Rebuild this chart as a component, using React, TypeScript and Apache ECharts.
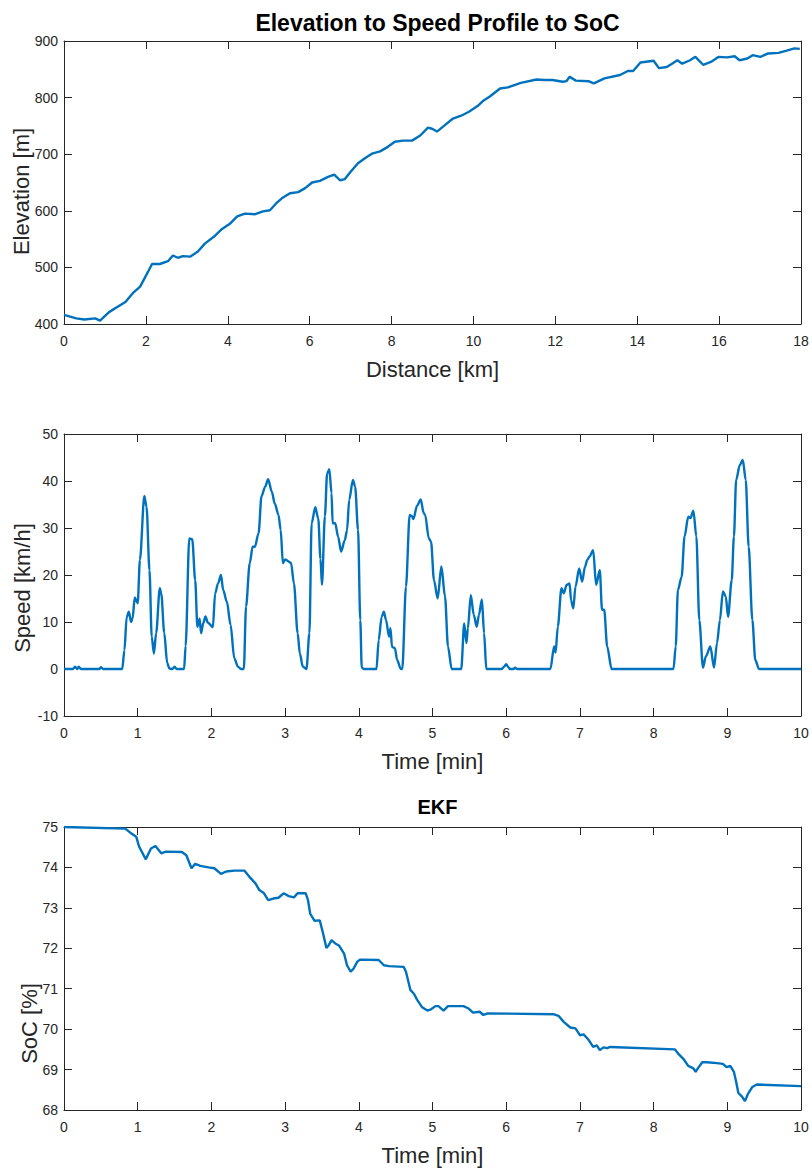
import React, { useEffect, useRef } from "react";
import * as echarts from "echarts";

const FONT = "'Liberation Sans', Arial, Helvetica, sans-serif";
const AXIS_COLOR = "#262626";
const LINE_COLOR = "#0072BD";

const mainTitle = "Elevation to Speed Profile to SoC";
const socTitle = "EKF";

const elevationTicks = { min: 400, max: 900, interval: 100 };
const distanceTicks = { min: 0, max: 18, interval: 2 };
const speedTicks = { min: -10, max: 50, interval: 10 };
const timeTicks = { min: 0, max: 10, interval: 1 };
const socTicks = { min: 68, max: 75, interval: 1 };

const distanceKm = [
  0, 0.15, 0.3, 0.5, 0.76, 0.88, 1.1, 1.3, 1.5, 1.7, 1.86, 2.05, 2.15, 2.34, 2.54, 2.66, 2.78, 2.9,
  3.08, 3.27, 3.44, 3.69, 3.86, 4.05, 4.23, 4.42, 4.67, 4.86, 5.03, 5.18, 5.32, 5.52, 5.72, 5.89,
  6.06, 6.25, 6.45, 6.6, 6.74, 6.86, 6.99, 7.18, 7.35, 7.52, 7.72, 7.91, 8.08, 8.28, 8.5, 8.7, 8.89,
  8.99, 9.11, 9.28, 9.5, 9.7, 9.89, 10.1, 10.25, 10.4, 10.65, 10.84, 11.16, 11.54, 11.73, 11.93,
  12.18, 12.27, 12.35, 12.5, 12.81, 12.94, 13.2, 13.58, 13.77, 13.9, 14.08, 14.4, 14.53, 14.72,
  14.85, 14.98, 15.1, 15.29, 15.42, 15.61, 15.8, 15.99, 16.19, 16.38, 16.5, 16.69, 16.82, 17.01,
  17.2, 17.45, 17.65, 17.84, 17.97,
];
const elevationM = [
  416, 413, 410, 408, 410, 406, 421, 430, 439, 456, 466, 492, 506, 506, 511, 521, 517, 520,
  519, 528, 542, 556, 568, 577, 590, 595, 594, 599, 601, 613, 622, 631, 633, 640,
  650, 653, 660, 664, 654, 656, 668, 684, 693, 701, 705, 713, 722, 724, 724, 733, 747,
  745, 740, 750, 763, 768, 775, 785, 795, 802, 816, 818, 826, 832, 831, 831,
  828, 829, 837, 830, 829, 825, 834, 840, 847, 847, 862, 865, 852, 854,
  860, 866, 860, 866, 872, 858, 863, 872, 871, 873, 866, 869, 875, 872,
  878, 879, 883, 887, 886,
];

const speedTimeMin = [
  0, 0.12, 0.15, 0.18, 0.2, 0.23, 0.48, 0.5, 0.53, 0.79, 0.82, 0.85, 0.88, 0.91, 0.93, 0.96, 1.0,
  1.03, 1.09, 1.12, 1.16, 1.19, 1.22, 1.25, 1.3, 1.32, 1.36, 1.4, 1.43, 1.47, 1.5, 1.53, 1.63, 1.65,
  1.7, 1.74, 1.78, 1.81, 1.84, 1.86, 1.89, 1.92, 1.95, 2.02, 2.05, 2.09, 2.13, 2.16, 2.21, 2.26,
  2.31, 2.36, 2.4, 2.44, 2.47, 2.52, 2.56, 2.59, 2.64, 2.68, 2.73, 2.77, 2.82, 2.86, 2.91, 2.94,
  2.97, 3.0, 3.08, 3.12, 3.17, 3.2, 3.24, 3.29, 3.33, 3.36, 3.41, 3.45, 3.48, 3.5, 3.54, 3.57, 3.6,
  3.63, 3.645, 3.68, 3.72, 3.76, 3.81, 3.84, 3.87, 3.92, 3.95, 3.99, 4.02, 4.04, 4.07, 4.24, 4.27,
  4.31, 4.34, 4.37, 4.41, 4.43, 4.45, 4.49, 4.52, 4.57, 4.59, 4.64, 4.69, 4.72, 4.74, 4.79, 4.84,
  4.88, 4.9, 4.95, 4.98, 5.02, 5.07, 5.12, 5.17, 5.21, 5.26, 5.39, 5.43, 5.46, 5.48, 5.52, 5.56,
  5.6, 5.63, 5.67, 5.7, 5.73, 5.94, 5.97, 6.0, 6.03, 6.05, 6.1, 6.12, 6.15, 6.6, 6.65, 6.67, 6.7,
  6.75, 6.78, 6.82, 6.86, 6.88, 6.91, 6.94, 6.99, 7.03, 7.07, 7.1, 7.13, 7.18, 7.22, 7.27, 7.3,
  7.33, 7.37, 7.43, 8.27, 8.3, 8.33, 8.38, 8.42, 8.47, 8.5, 8.54, 8.58, 8.62, 8.67, 8.71, 8.77,
  8.82, 8.86, 8.9, 8.94, 8.98, 9.01, 9.06, 9.09, 9.12, 9.17, 9.21, 9.25, 9.29, 9.34, 9.38, 9.43, 10,
];
const speedKmh = [
  0, 0, 0.5, 0, 0.5, 0, 0, 0.4, 0, 0, 4, 11, 12.2, 10, 10.7, 15.2, 14,
  23.2, 36.8, 34.5, 21, 6.9, 3.3, 7.6, 17.2, 16, 7.7, 1.3, 0.1, 0, 0.5, 0, 0, 4.9,
  27.8, 27.6, 18.9, 9, 10.7, 7.6, 9.8, 11.2, 9.9, 8.9, 16, 18.2, 20, 16.8, 14.3, 9.4,
  2.3, 0.5, 0, 0, 13.3, 22.5, 26, 26, 28.9, 36.8, 38.8, 40.4, 37.7, 35.2, 32.8, 29.6,
  22.5, 23.3, 22.6, 18.2, 7.6, 3.3, 0.5, 0, 7.6, 31, 34.4, 32, 23.4, 17.9, 32.5, 41.6, 42.5,
  37.4, 31, 31, 28.1, 25, 27.4, 29.5, 36, 40.2, 38.8, 29.6, 10.4, 0.3, 0, 0, 6.2,
  11.1, 12.2, 10.4, 6.9, 8.7, 4.7, 4.4, 1.9, 0, 0, 17.5, 32.8, 32.5, 31.9, 34.7, 36.1,
  33.2, 32.8, 27.8, 27.1, 18.9, 15, 21.8, 15.4, 4.8, 0, 0, 9.7, 5.5, 8.7, 15.7, 11.5,
  9, 11.5, 14.8, 7.6, 0, 0, 0.5, 1, 0.4, 0, 0, 0.3, 0, 0, 4.8, 3.5, 9,
  17.2, 16.1, 17.9, 18.2, 14.6, 12.9, 17.5, 21.4, 18.6, 21.8, 23.2, 23.9, 25.3, 17.9, 21, 12.6,
  12.6, 4.8, 0, 0, 4.8, 16.8, 19.6, 28.2, 32.4, 32.1, 33.7, 28.2, 10.4, 0.3, 2.7, 4.8,
  0.3, 5.5, 10.4, 16.5, 15.4, 11.1, 18.9, 28.2, 40.2, 43.4, 44.5, 40.2, 26, 10.4, 1.9, 0, 0,
];

const socTimeMin = [
  0, 0.83, 0.9, 0.98, 1.02, 1.11, 1.18, 1.24, 1.32, 1.38, 1.6, 1.66, 1.73, 1.78, 1.85, 1.96, 2.04,
  2.13, 2.2, 2.31, 2.45, 2.52, 2.6, 2.65, 2.71, 2.77, 2.84, 2.91, 2.98, 3.05, 3.12, 3.17, 3.28,
  3.31, 3.34, 3.4, 3.47, 3.51, 3.56, 3.59, 3.63, 3.68, 3.73, 3.8, 3.84, 3.89, 3.93, 3.98, 4.02,
  4.27, 4.34, 4.41, 4.61, 4.64, 4.7, 4.75, 4.79, 4.86, 4.93, 4.98, 5.04, 5.08, 5.15, 5.21, 5.42,
  5.49, 5.55, 5.64, 5.69, 5.75, 6.64, 6.71, 6.78, 6.87, 6.94, 7.0, 7.05, 7.12, 7.18, 7.23, 7.27,
  7.32, 7.37, 7.41, 8.29, 8.34, 8.41, 8.47, 8.54, 8.57, 8.6, 8.66, 8.72, 8.86, 8.94, 8.99, 9.04,
  9.09, 9.12, 9.15, 9.2, 9.24, 9.28, 9.34, 9.4, 10,
];
const socPercent = [
  75.0, 74.96, 74.86, 74.76, 74.51, 74.2, 74.47, 74.53, 74.35, 74.39, 74.38, 74.3, 73.98, 74.09, 74.04, 74.0, 73.98,
  73.84, 73.9, 73.92, 73.92, 73.76, 73.6, 73.44, 73.37, 73.19, 73.23, 73.25, 73.36, 73.29, 73.26, 73.36, 73.36,
  73.2, 72.86, 72.68, 72.69, 72.41, 72.01, 72.07, 72.2, 72.12, 72.07, 71.87, 71.58, 71.42, 71.5, 71.67, 71.72,
  71.71, 71.58, 71.56, 71.54, 71.42, 70.97, 70.87, 70.73, 70.54, 70.46, 70.49, 70.57, 70.57, 70.46, 70.57, 70.57,
  70.51, 70.41, 70.43, 70.35, 70.39, 70.37, 70.33, 70.18, 70.04, 70.02, 69.85, 69.87, 69.73, 69.56, 69.6, 69.48,
  69.55, 69.53, 69.56, 69.5, 69.38, 69.25, 69.09, 69.03, 68.94, 69.03, 69.18, 69.18, 69.16, 69.14, 69.06, 69.09,
  68.94, 68.7, 68.42, 68.33, 68.22, 68.4, 68.57, 68.63, 68.59,
];

const zip = (xs: number[], ys: number[]) => xs.map((x, i) => [x, ys[i]]);

const lineStyle = { color: AXIS_COLOR, width: 1 };

function xAxes(gridIndex: number, t: { min: number; max: number; interval: number }, name: string) {
  const base = {
    type: "value",
    gridIndex,
    min: t.min,
    max: t.max,
    interval: t.interval,
    splitLine: { show: false },
    axisLine: { show: true, onZero: false, lineStyle },
    axisTick: { show: true, inside: true, length: 8, lineStyle },
  };
  return [
    {
      ...base,
      position: "bottom",
      axisLabel: {
        show: true,
        margin: 10,
        fontSize: 14,
        color: AXIS_COLOR,
        fontFamily: FONT,
        showMinLabel: true,
        showMaxLabel: true,
      },
      name,
      nameLocation: "middle",
      nameGap: 34,
      nameMoveOverlap: false,
      nameTextStyle: { fontSize: 22, color: AXIS_COLOR, fontFamily: FONT },
    },
    { ...base, position: "top", axisLabel: { show: false } },
  ];
}

function yAxes(
  gridIndex: number,
  t: { min: number; max: number; interval: number },
  name: string,
  nameGap: number,
  shiftDown: number
) {
  const base = {
    type: "value",
    gridIndex,
    min: t.min,
    max: t.max,
    interval: t.interval,
    splitLine: { show: false },
    axisLine: { show: true, onZero: false, lineStyle },
    axisTick: { show: true, inside: true, length: 8, lineStyle },
  };
  return [
    {
      ...base,
      position: "left",
      axisLabel: {
        show: true,
        margin: 6,
        fontSize: 14,
        color: AXIS_COLOR,
        fontFamily: FONT,
        showMinLabel: true,
        showMaxLabel: true,
      },
      name,
      nameLocation: "middle",
      nameGap,
      nameMoveOverlap: false,
      nameTextStyle: {
        fontSize: 22,
        color: AXIS_COLOR,
        fontFamily: FONT,
        padding: [0, shiftDown * 2, 0, 0],
      },
    },
    { ...base, position: "right", axisLabel: { show: false } },
  ];
}

export default function App() {
  const ref = useRef<HTMLDivElement>(null);

  useEffect(() => {
    if (!ref.current) return;
    const chart = echarts.init(ref.current, undefined, { renderer: "svg" });
    const seriesBase = {
      type: "line",
      showSymbol: false,
      symbol: "none",
      lineStyle: { color: LINE_COLOR, width: 2.4 },
      itemStyle: { color: LINE_COLOR },
      z: 1,
    };
    const gridBase = { outerBoundsMode: "none", containLabel: false };
    chart.setOption({
      animation: false,
      backgroundColor: "#ffffff",
      textStyle: { fontFamily: FONT },
      title: [
        {
          text: mainTitle,
          left: 432.5,
          top: 6,
          textAlign: "center",
          textStyle: { fontSize: 23, fontWeight: "bold", color: "#000", fontFamily: FONT },
        },
        {
          text: socTitle,
          left: 432.5,
          top: 792,
          textAlign: "center",
          textStyle: { fontSize: 20, fontWeight: "bold", color: "#000", fontFamily: FONT },
        },
      ],
      grid: [
        { ...gridBase, left: 64, top: 41, width: 737, height: 283 },
        { ...gridBase, left: 64, top: 434, width: 737, height: 282 },
        { ...gridBase, left: 64, top: 827, width: 737, height: 283 },
      ],
      xAxis: [
        ...xAxes(0, distanceTicks, "Distance [km]"),
        ...xAxes(1, timeTicks, "Time [min]"),
        ...xAxes(2, timeTicks, "Time [min]"),
      ],
      yAxis: [
        ...yAxes(0, elevationTicks, "Elevation [m]", 32, 9),
        ...yAxes(1, speedTicks, "Speed [km/h]", 31, 13),
        ...yAxes(2, socTicks, "SoC [%]", 24, 55),
      ],
      series: [
        { ...seriesBase, xAxisIndex: 0, yAxisIndex: 0, data: zip(distanceKm, elevationM) },
        {
          ...seriesBase,
          xAxisIndex: 2,
          yAxisIndex: 2,
          smooth: 0.3,
          smoothMonotone: "x",
          data: zip(speedTimeMin, speedKmh),
        },
        { ...seriesBase, xAxisIndex: 4, yAxisIndex: 4, data: zip(socTimeMin, socPercent) },
      ],
    });
    return () => chart.dispose();
  }, []);

  return (
    <div
      ref={ref}
      style={{ position: "absolute", left: 0, top: 0, width: 812, height: 1175, background: "#fff" }}
    />
  );
}
